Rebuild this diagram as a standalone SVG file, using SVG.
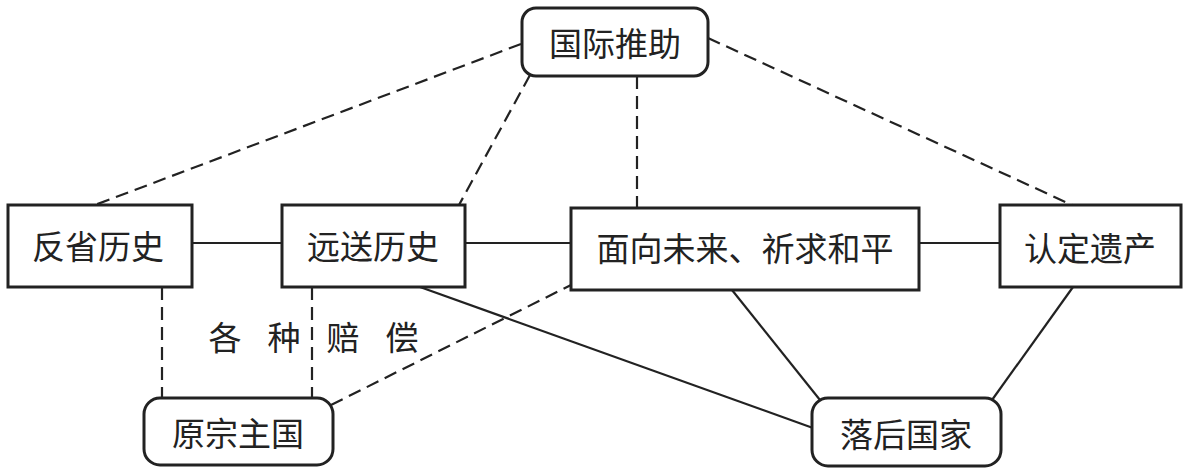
<svg xmlns="http://www.w3.org/2000/svg" width="1185" height="473" viewBox="0 0 1185 473">
<style>
.box{fill:#fff;stroke:#222;stroke-width:3}
.t{font-family:"Noto Sans CJK SC","Noto Sans",sans-serif;font-size:33px;fill:#222;text-anchor:middle;dominant-baseline:central}
.s{stroke:#222;stroke-width:2.2;fill:none}
.d{stroke:#222;stroke-width:2.2;fill:none;stroke-dasharray:13 7}
</style>
<rect width="1185" height="473" fill="#fff"/>
<g id="connectors">
<line class="d" x1="521" y1="44" x2="95" y2="205"/>
<line class="d" x1="530" y1="75" x2="459" y2="205"/>
<line class="d" x1="637" y1="76" x2="637" y2="208"/>
<line class="d" x1="708" y1="38" x2="1072" y2="205"/>
<line class="s" x1="192" y1="243" x2="282" y2="243"/>
<line class="s" x1="465" y1="243" x2="571" y2="243"/>
<line class="s" x1="919" y1="243" x2="1000" y2="243"/>
<line class="d" x1="162" y1="287" x2="162" y2="398"/>
<line class="d" x1="312" y1="287" x2="312" y2="398"/>
<line class="d" x1="331" y1="405" x2="573" y2="284"/>
<line class="s" x1="420" y1="287" x2="813" y2="428"/>
<line class="s" x1="732" y1="290" x2="820" y2="400"/>
<line class="s" x1="1073" y1="287" x2="992" y2="400"/>
</g>
<g id="n1"><rect class="box" x="522" y="8" width="186" height="68" rx="14"/><text class="t" x="615" y="42">国际推助</text></g>
<g id="n2"><rect class="box" x="8" y="205" width="184" height="82"/><text class="t" x="98" y="245">反省历史</text></g>
<g id="n3"><rect class="box" x="282" y="205" width="183" height="82"/><text class="t" x="373" y="245">远送历史</text></g>
<g id="n4"><rect class="box" x="571" y="208" width="348" height="82"/><text class="t" x="745" y="247">面向未来、祈求和平</text></g>
<g id="n5"><rect class="box" x="1000" y="205" width="181" height="82"/><text class="t" x="1090" y="247">认定遗产</text></g>
<g id="n6"><rect class="box" x="144" y="398" width="189" height="67" rx="16"/><text class="t" x="238" y="432">原宗主国</text></g>
<g id="n7"><rect class="box" x="812" y="398" width="189" height="68" rx="16"/><text class="t" x="906" y="433">落后国家</text></g>
<g id="label" class="t" font-size="31"><text x="225" y="336">各</text><text x="284" y="336">种</text><text x="343" y="336">赔</text><text x="402" y="336">偿</text></g>
</svg>
